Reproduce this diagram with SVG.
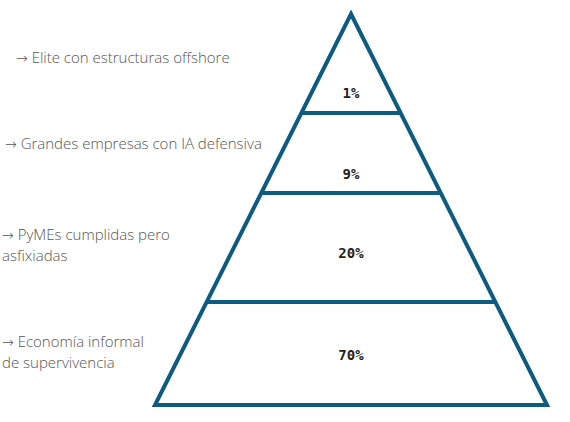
<svg xmlns="http://www.w3.org/2000/svg" width="570" height="422" viewBox="0 0 570 422">
<style>
.edge{stroke:#0d5b80;stroke-width:4;fill:none;stroke-linejoin:miter}
.pct{font-family:"DejaVu Sans Mono","Liberation Mono",monospace;font-weight:bold;font-size:14px;fill:#222;text-anchor:middle}
.lbl{font-family:"Open Sans","DejaVu Sans",sans-serif;font-weight:300;font-size:15px;fill:#555}
.ar{font-family:"DejaVu Sans",sans-serif;font-size:14px}
</style>
<rect width="570" height="422" fill="#fff"/>
<g id="connectors">
<polygon class="edge" points="351,14 547,405 155,405"/>
<line class="edge" x1="301" y1="113" x2="401" y2="113"/>
<line class="edge" x1="261" y1="193" x2="441" y2="193"/>
<line class="edge" x1="206" y1="302" x2="496" y2="302"/>
</g>
<g id="tier1"><text class="pct" x="351" y="98">1%</text></g>
<g id="tier2"><text class="pct" x="351" y="179">9%</text></g>
<g id="tier3"><text class="pct" x="351" y="258">20%</text></g>
<g id="tier4"><text class="pct" x="351" y="360">70%</text></g>
<g id="label1"><text class="lbl" x="16" y="63"><tspan class="ar">→</tspan> Elite con estructuras offshore</text></g>
<g id="label2"><text class="lbl" x="5" y="149"><tspan class="ar">→</tspan> Grandes empresas con IA defensiva</text></g>
<g id="label3"><text class="lbl" x="2" y="240"><tspan class="ar">→</tspan> PyMEs cumplidas pero</text><text class="lbl" x="2" y="261">asfixiadas</text></g>
<g id="label4"><text class="lbl" x="2" y="347"><tspan class="ar">→</tspan> Economía informal</text><text class="lbl" x="2" y="368">de supervivencia</text></g>
</svg>
